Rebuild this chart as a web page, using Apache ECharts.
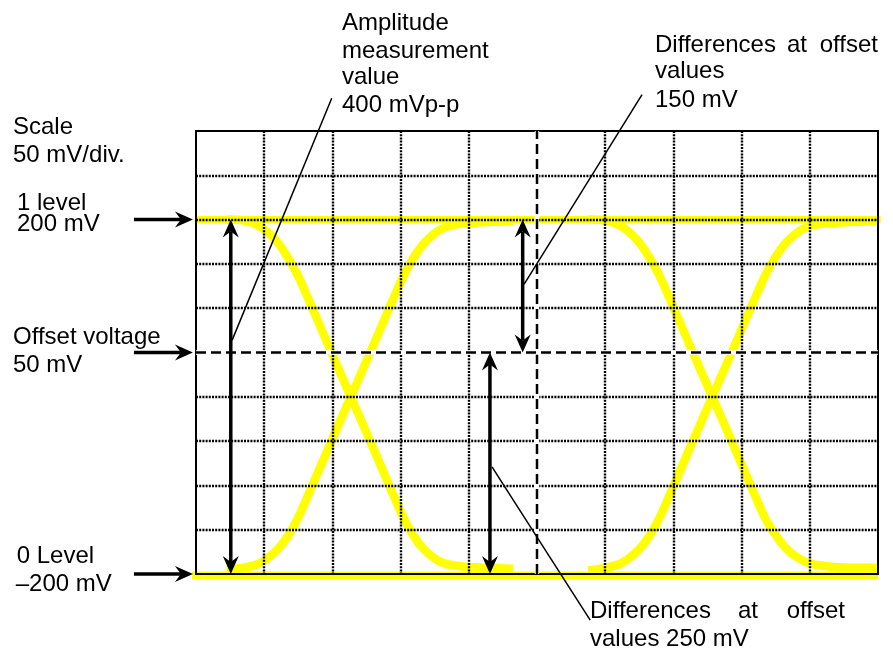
<!DOCTYPE html>
<html>
<head>
<meta charset="utf-8">
<script src="https://cdn.jsdelivr.net/npm/echarts@6/dist/echarts.min.js"></script>
<style>
html,body{margin:0;padding:0;background:#fff;}
#chart{width:893px;height:651px;}
</style>
</head>
<body>
<div id="chart"></div>
<script>
// ---- axis scale (divisions horizontally, mV vertically; 50 mV/div) ----
const xRange = [0, 10];
const xStep = 1;
const yRange = [-200, 300];
const yStep = 50;

// ---- levels (mV) ----
const level1 = [[0, 200], [10.04, 200]];
const level0 = [[-0.06, -201.5], [10, -201.5]];

// ---- eye pattern traces: [division, mV] ----
const eye1FallX = [0.45, 0.7, 0.9, 1.05, 1.2, 1.35, 1.5, 1.69, 1.98, 2.27, 2.56, 2.85, 3.04, 3.19, 3.34, 3.49, 3.64, 3.84, 4.2, 4.65];
const eye1FallV = [200, 199, 194, 186, 174, 157, 136, 103, 51, 0, -51, -103, -136, -157, -172, -182, -188, -191, -193, -194];
const eye1RiseX = [0.45, 0.7, 0.9, 1.05, 1.2, 1.35, 1.5, 1.69, 1.98, 2.27, 2.56, 2.85, 3.04, 3.19, 3.34, 3.49, 3.64, 3.84, 4.2, 4.65];
const eye1RiseV = [-195, -193, -189, -182, -172, -157, -136, -103, -51, 0, 51, 103, 136, 157, 173, 184, 191, 195, 197, 198];
const eye2RiseX = [5.75, 6.0, 6.2, 6.35, 6.5, 6.65, 6.8, 6.99, 7.28, 7.57, 7.86, 8.15, 8.34, 8.49, 8.64, 8.79, 8.94, 9.14, 9.5, 10.0];
const eye2RiseV = [-196, -193, -189, -182, -172, -157, -136, -103, -51, 0, 51, 103, 136, 157, 173, 184, 191, 195, 197, 198];
const eye2FallX = [5.75, 6.0, 6.2, 6.35, 6.5, 6.65, 6.8, 6.99, 7.28, 7.57, 7.86, 8.15, 8.34, 8.49, 8.64, 8.79, 9.0, 9.35, 10.0];
const eye2FallV = [200, 199, 194, 186, 174, 157, 136, 103, 51, 0, -51, -103, -136, -155, -170, -180, -188, -192, -193];

// ---- annotation geometry in data units [x1, y1, x2, y2] ----
const doubleArrows = [[0.51, 200, 0.51, -200], [4.79, 200, 4.79, 50], [4.31, 50, 4.31, -200]];
const levelArrows = [[-0.91, 200, -0.045, 200], [-0.91, 50, -0.045, 50], [-0.91, -200, -0.045, -200]];
const leaderLines = [[1.99, 337, 0.53, 64], [6.54, 341, 4.81, 127], [4.34, -79, 5.78, -252]];
const dashedLines = [[5, -200, 5, 300], [0, 50, 10, 50]];

function zip(xs, vs) { return xs.map((x, i) => [x, vs[i]]); }

const YELLOW = '#FFFF00';
const FONT = '24px "Liberation Sans", Arial, sans-serif';

function head(tip, from) {
  const L = 18, W = 16, N = 12;
  const dx = tip[0] - from[0], dy = tip[1] - from[1];
  const len = Math.hypot(dx, dy);
  const ux = dx / len, uy = dy / len, nx = -uy, ny = ux;
  return {
    poly: [[tip[0], tip[1]],
           [tip[0] - L * ux + W / 2 * nx, tip[1] - L * uy + W / 2 * ny],
           [tip[0] - N * ux, tip[1] - N * uy],
           [tip[0] - L * ux - W / 2 * nx, tip[1] - L * uy - W / 2 * ny]],
    back: [tip[0] - N * ux, tip[1] - N * uy]
  };
}

function arrowRender(double) {
  return function (params, api) {
    const p1 = api.coord([api.value(0), api.value(1)]);
    const p2 = api.coord([api.value(2), api.value(3)]);
    const h2 = head(p2, p1);
    const children = [];
    let start = p1;
    if (double) {
      const h1 = head(p1, p2);
      start = h1.back;
      children.push({ type: 'polygon', shape: { points: h1.poly }, style: { fill: '#000' } });
    }
    children.push({ type: 'line', shape: { x1: start[0], y1: start[1], x2: h2.back[0], y2: h2.back[1] },
                    style: { stroke: '#000', lineWidth: 3.5 } });
    children.push({ type: 'polygon', shape: { points: h2.poly }, style: { fill: '#000' } });
    return { type: 'group', children: children };
  };
}

function lineRender(width, dash, under) {
  return function (params, api) {
    const p1 = api.coord([api.value(0), api.value(1)]);
    const p2 = api.coord([api.value(2), api.value(3)]);
    const children = [];
    if (under) {
      children.push({ type: 'line', shape: { x1: p1[0], y1: p1[1], x2: p2[0], y2: p2[1] },
                      style: { stroke: '#fff', lineWidth: width + 2 } });
    }
    children.push({ type: 'line', shape: { x1: p1[0], y1: p1[1], x2: p2[0], y2: p2[1] },
                    style: { stroke: '#000', lineWidth: width, lineDash: dash } });
    return { type: 'group', children: children };
  };
}

function yellowSeries(data, width, clip) {
  return { type: 'line', data: data, symbol: 'none', smooth: 0.3, clip: clip, z: 2,
           lineStyle: { color: YELLOW, width: width, join: 'round' }, silent: true, animation: false };
}

function txt(x, y, s, align) {
  return { type: 'text', x: x, y: y, z: 20,
           style: { text: s, font: FONT, fill: '#000', align: align || 'left', verticalAlign: 'middle' } };
}

const chart = echarts.init(document.getElementById('chart'), null, { renderer: 'canvas' });
const dotted = { color: '#000', width: 2.4, type: [2, 1.2] };

chart.setOption({
  animation: false,
  backgroundColor: '#fff',
  grid: { left: 196, top: 131, width: 682, height: 443, show: true, z: 6,
          borderColor: '#000', borderWidth: 2, backgroundColor: 'transparent' },
  xAxis: { type: 'value', min: xRange[0], max: xRange[1], interval: xStep, z: 5,
           axisLine: { show: false }, axisTick: { show: false }, axisLabel: { show: false },
           splitLine: { show: true, showMinLine: false, showMaxLine: false, lineStyle: dotted } },
  yAxis: { type: 'value', min: yRange[0], max: yRange[1], interval: yStep, z: 5,
           axisLine: { show: false }, axisTick: { show: false }, axisLabel: { show: false },
           splitLine: { show: true, showMinLine: false, showMaxLine: false, lineStyle: dotted } },
  series: [
    yellowSeries(level1, 7, false),
    yellowSeries(level0, 7.5, false),
    yellowSeries(zip(eye1FallX, eye1FallV), 8.5, true),
    yellowSeries(zip(eye1RiseX, eye1RiseV), 8.5, true),
    yellowSeries(zip(eye2RiseX, eye2RiseV), 8.5, true),
    yellowSeries(zip(eye2FallX, eye2FallV), 8.5, true),
    { type: 'custom', z: 8, silent: true, data: dashedLines, renderItem: lineRender(2.5, [10, 5], true) },
    { type: 'custom', z: 10, silent: true, data: leaderLines, renderItem: lineRender(1.5, null, false) },
    { type: 'custom', z: 11, silent: true, data: doubleArrows, renderItem: arrowRender(true) },
    { type: 'custom', z: 11, silent: true, data: levelArrows, renderItem: arrowRender(false) }
  ],
  graphic: [
    txt(13, 127, 'Scale'),
    txt(13, 155, '50 mV/div.'),
    txt(17, 203.5, '1 level'),
    txt(17, 224.5, '200 mV'),
    txt(13, 337.7, 'Offset voltage'),
    txt(13, 365, '50 mV'),
    txt(16.7, 556, '0 Level'),
    txt(15.7, 584.3, '\u2013200 mV'),
    txt(342, 23.3, 'Amplitude'),
    txt(342, 51, 'measurement'),
    txt(342, 77.5, 'value'),
    txt(342, 105.7, '400 mVp-p'),
    txt(655, 45, 'Differences'),
    txt(797, 45, 'at', 'center'),
    txt(878, 45, 'offset', 'right'),
    txt(655, 71.7, 'values'),
    txt(655, 100, '150 mV'),
    txt(590, 611.7, 'Differences'),
    txt(748, 611.7, 'at', 'center'),
    txt(845, 611.7, 'offset', 'right'),
    txt(590, 639.5, 'values 250 mV')
  ]
});
</script>
</body>
</html>
